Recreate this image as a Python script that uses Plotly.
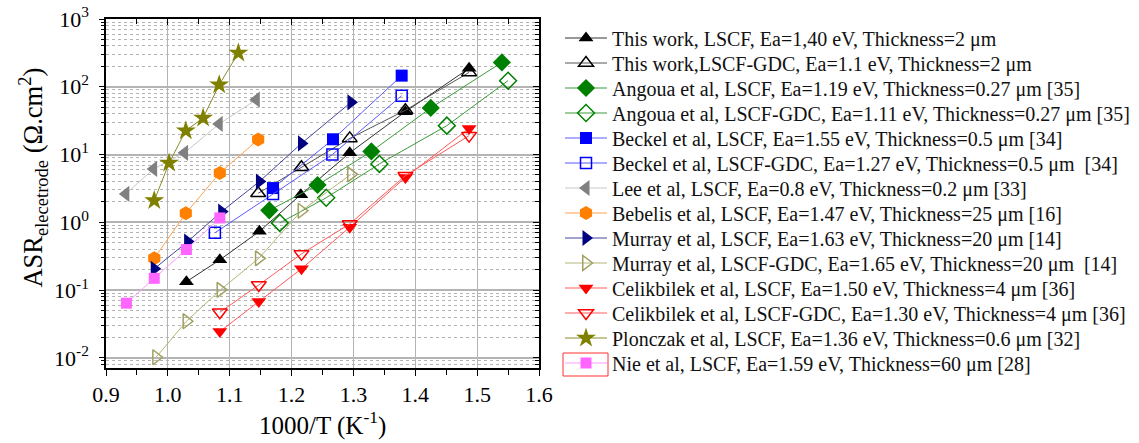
import plotly.graph_objects as go

# ---------------- data ----------------
tw_lscf_x = [1.030, 1.084, 1.148, 1.215, 1.294, 1.384, 1.487]
tw_lscf_y = [0.133, 0.279, 0.736, 2.56, 10.6, 42.9, 187]
tw_gdc_x = [1.146, 1.216, 1.294, 1.384, 1.487]
tw_gdc_y = [2.68, 6.48, 17.3, 45, 163]
ang_lscf_x = [1.164, 1.242, 1.329, 1.425, 1.540]
ang_lscf_y = [1.50, 3.55, 11.1, 48.7, 229]
ang_gdc_x = [1.181, 1.256, 1.342, 1.451, 1.550]
ang_gdc_y = [0.98, 2.3, 7.27, 26.7, 123]
bec_lscf_x = [1.170, 1.267, 1.378]
bec_lscf_y = [3.2, 16.8, 146]
bec_gdc_x = [1.076, 1.170, 1.266, 1.378]
bec_gdc_y = [0.70, 2.62, 10.0, 74]
lee_x = [0.932, 0.977, 1.027, 1.083, 1.143]
lee_y = [2.62, 6.13, 10.6, 28.3, 64.5]
beb_x = [0.978, 1.029, 1.084, 1.146]
beb_y = [0.294, 1.36, 5.35, 16.6]
mur_lscf_x = [0.978, 1.032, 1.087, 1.148, 1.216, 1.296]
mur_lscf_y = [0.206, 0.519, 1.44, 4.0, 14.6, 58.9]
mur_gdc_x = [0.981, 1.030, 1.085, 1.147, 1.216, 1.296]
mur_gdc_y = [0.0102, 0.0347, 0.1007, 0.294, 1.48, 5.1]
cel_lscf_x = [1.084, 1.147, 1.216, 1.294, 1.384, 1.487]
cel_lscf_y = [0.0244, 0.0677, 0.206, 0.844, 4.6, 24.3]
cel_gdc_x = [1.084, 1.147, 1.216, 1.294, 1.384, 1.487]
cel_gdc_y = [0.047, 0.119, 0.342, 0.946, 4.88, 19]
plo_x = [0.978, 1.002, 1.029, 1.057, 1.083, 1.114]
plo_y = [2.09, 7.5, 22.5, 34.7, 107, 315]
nie_x = [0.933, 0.978, 1.030, 1.084]
nie_y = [0.064, 0.149, 0.396, 1.16]

x_tick_vals = [0.9, 1.0, 1.1, 1.2, 1.3, 1.4, 1.5, 1.6]
x_tick_text = ["0.9", "1.0", "1.1", "1.2", "1.3", "1.4", "1.5", "1.6"]
y_tick_vals = [0.01, 0.1, 1, 10, 100, 1000]
y_tick_text = ["10<sup>-2</sup>", "10<sup>-1</sup>", "10<sup>0</sup>",
               "10<sup>1</sup>", "10<sup>2</sup>", "10<sup>3</sup>"]

names = [
    "This work, LSCF, Ea=1,40 eV, Thickness=2 \u03bcm",
    "This work,LSCF-GDC, Ea=1.1 eV, Thickness=2 \u03bcm",
    "Angoua et al, LSCF, Ea=1.19 eV, Thickness=0.27 \u03bcm [35]",
    "Angoua et al, LSCF-GDC, Ea=1.11 eV, Thickness=0.27 \u03bcm [35]",
    "Beckel et al, LSCF, Ea=1.55 eV, Thickness=0.5 \u03bcm [34]",
    "Beckel et al, LSCF-GDC, Ea=1.27 eV, Thickness=0.5 \u03bcm &nbsp;[34]",
    "Lee et al, LSCF, Ea=0.8 eV, Thickness=0.2 \u03bcm [33]",
    "Bebelis et al, LSCF, Ea=1.47 eV, Thickness=25 \u03bcm [16]",
    "Murray et al, LSCF, Ea=1.63 eV, Thickness=20 \u03bcm [14]",
    "Murray et al, LSCF-GDC, Ea=1.65 eV, Thickness=20 \u03bcm &nbsp;[14]",
    "Celikbilek et al, LSCF, Ea=1.50 eV, Thickness=4 \u03bcm [36]",
    "Celikbilek et al, LSCF-GDC, Ea=1.30 eV, Thickness=4 \u03bcm [36]",
    "Plonczak et al, LSCF, Ea=1.36 eV, Thickness=0.6 \u03bcm [32]",
    "Nie et al, LSCF, Ea=1.59 eV, Thickness=60 \u03bcm [28]",
]

series = [
    (tw_lscf_x, tw_lscf_y, "triangle-up", "black", "#333333", 13),
    (tw_gdc_x, tw_gdc_y, "triangle-up-open", "black", "#555555", 13),
    (ang_lscf_x, ang_lscf_y, "diamond", "#008000", "#3a9a3a", 14),
    (ang_gdc_x, ang_gdc_y, "diamond-open", "#008000", "#3a9a3a", 13),
    (bec_lscf_x, bec_lscf_y, "square", "#0000ff", "#5a5aff", 12),
    (bec_gdc_x, bec_gdc_y, "square-open", "#0000ff", "#5a5aff", 11),
    (lee_x, lee_y, "triangle-left", "#808080", "#c8c8c8", 14),
    (beb_x, beb_y, "hexagon", "#ff8000", "#ffa050", 14),
    (mur_lscf_x, mur_lscf_y, "triangle-right", "#000080", "#4646a0", 14),
    (mur_gdc_x, mur_gdc_y, "triangle-right-open", "#a0a060", "#b4b478", 13),
    (cel_lscf_x, cel_lscf_y, "triangle-down", "#ff0000", "#ff5a5a", 13),
    (cel_gdc_x, cel_gdc_y, "triangle-down-open", "#ff0000", "#ff5a5a", 13),
    (plo_x, plo_y, "star", "#808000", "#8c8c28", 15),
    (nie_x, nie_y, "square", "#ff66ff", "#ff99ff", 11),
]

FONT = "Liberation Serif, Times New Roman, serif"

# plot-area geometry (pixels)
ML, MR, MT, MB = 106, 600, 19, 75
W, H = 1139, 443
PW, PH = W - ML - MR, H - MT - MB

# legend rows: one legend per entry so the row pitch can match the reference
ROW0, ROW_PITCH, TOP_OFFSET = 39.5, 25.0, 21.0
LEG_X_PX = 560

fig = go.Figure()
legend_layouts = {}
for i, ((xs, ys, sym, mcol, lcol, msize), nm) in enumerate(zip(series, names)):
    lid = "legend" if i == 0 else f"legend{i + 1}"
    fig.add_trace(go.Scatter(
        x=xs, y=ys, mode="lines+markers", name=nm, legend=lid,
        line=dict(color=lcol, width=1),
        marker=dict(symbol=sym, size=msize, color=mcol,
                    line=dict(color=mcol, width=1.5 if "open" in sym else 0)),
    ))
    top_px = ROW0 + i * ROW_PITCH - TOP_OFFSET
    legend_layouts[lid] = dict(
        xref="container", yref="container",
        x=LEG_X_PX / W, y=1 - top_px / H, xanchor="left", yanchor="top",
        font=dict(family=FONT, size=20, color="#111111"),
        itemwidth=42, bgcolor="rgba(0,0,0,0)", borderwidth=0,
        itemclick=False, itemdoubleclick=False)

minor_y = [m * 10.0 ** e for e in range(-3, 3) for m in range(2, 10)]
minor_y = [v for v in minor_y if 0.0071 < v < 1000]
minor_x = [0.95, 1.05, 1.15, 1.25, 1.35, 1.45, 1.55]

xr = [0.9, 1.6]
yr = [-2.15, 3.0]

fig.update_layout(
    width=W, height=H,
    margin=dict(l=ML, r=MR, t=MT, b=MB, autoexpand=False),
    paper_bgcolor="white", plot_bgcolor="white",
    font=dict(family=FONT, color="black"),
    showlegend=True,
    xaxis=dict(
        range=xr, tickmode="array", tickvals=x_tick_vals, ticktext=x_tick_text,
        tickfont=dict(size=22, family=FONT), ticks="outside", ticklen=6,
        tickcolor="black", showline=True, linecolor="black", linewidth=1.5,
        showgrid=True, gridcolor="#b4b4b4", gridwidth=1, zeroline=False,
        minor=dict(tickvals=minor_x, ticks="outside", ticklen=5,
                   tickcolor="black", showgrid=False),
        ticklabelstandoff=0,
    ),
    yaxis=dict(
        type="log", range=yr, tickmode="array", tickvals=y_tick_vals,
        ticktext=y_tick_text, tickfont=dict(size=22, family=FONT),
        ticks="outside", ticklen=5, tickcolor="black",
        showline=True, linecolor="black", linewidth=1.5,
        showgrid=True, gridcolor="#b4b4b4", gridwidth=2, zeroline=False,
        minor=dict(tickmode="array", tickvals=minor_y, ticks="outside", ticklen=3,
                   tickcolor="black", showgrid=True, gridcolor="#b4b4b4",
                   griddash="dot", gridwidth=1),
        ticklabelstandoff=6,
    ),
    xaxis2=dict(
        overlaying="x", side="top", range=xr, tickmode="array",
        tickvals=x_tick_vals, showticklabels=False, ticks="inside", ticklen=6,
        tickcolor="black", showline=True, linecolor="black", linewidth=1.5,
        showgrid=False, zeroline=False,
        minor=dict(tickvals=minor_x, ticks="inside", ticklen=5,
                   tickcolor="black", showgrid=False),
    ),
    yaxis2=dict(
        overlaying="y", side="right", type="log", range=yr, tickmode="array",
        tickvals=y_tick_vals, showticklabels=False, ticks="inside", ticklen=6,
        tickcolor="black", showline=True, linecolor="black", linewidth=1.5,
        showgrid=False, zeroline=False,
        minor=dict(tickmode="array", tickvals=minor_y, ticks="inside", ticklen=4,
                   tickcolor="black", showgrid=False),
    ),
)
fig.update_layout(**legend_layouts)

# invisible trace to attach the mirrored axes
fig.add_trace(go.Scatter(x=[xr[0]], y=[1], xaxis="x2", yaxis="y2",
                         mode="markers", marker=dict(opacity=0),
                         showlegend=False, hoverinfo="skip"))

# axis titles
fig.add_annotation(
    text="ASR<sub>elecetrode</sub> (\u03a9.cm<sup>2</sup>)",
    xref="paper", yref="paper", x=-0.169, y=0.545, showarrow=False,
    textangle=-90, xanchor="center", yanchor="middle",
    font=dict(family=FONT, size=26.5, color="black"))
fig.add_annotation(
    text="1000/T (K<sup>-1</sup>)",
    xref="paper", yref="paper", x=0.5, y=-0.158, showarrow=False,
    xanchor="center", yanchor="middle",
    font=dict(family=FONT, size=25, color="black"))

# red highlight box around the last legend symbol
fig.add_shape(type="rect", xref="paper", yref="paper",
              x0=(563 - ML) / PW, x1=(608 - ML) / PW,
              y0=(H - MB - 376) / PH, y1=(H - MB - 353) / PH,
              line=dict(color="#ff3030", width=1), fillcolor="rgba(0,0,0,0)")

fig.write_html("out.html")
